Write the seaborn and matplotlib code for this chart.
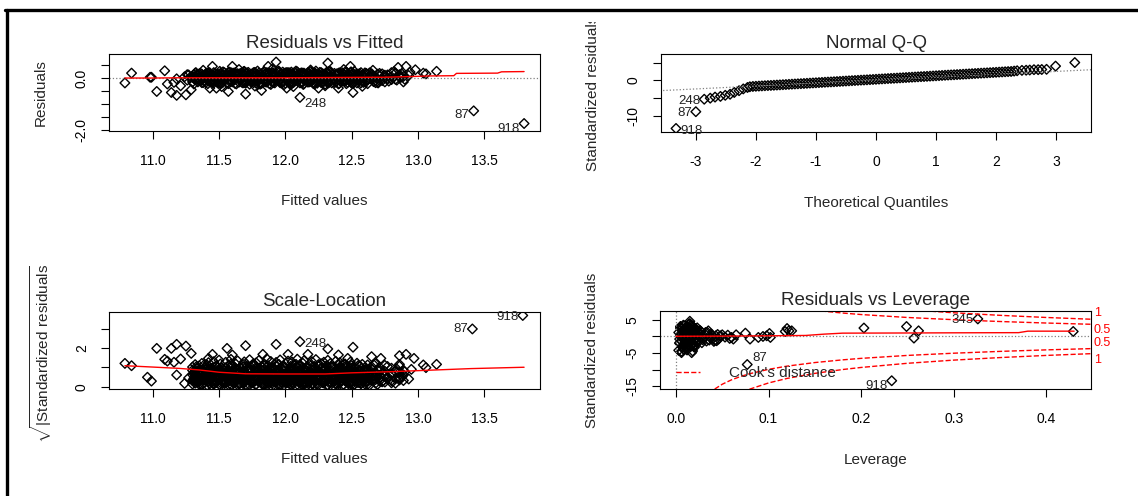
import numpy as np
import matplotlib
matplotlib.use("Agg")
import matplotlib.pyplot as plt
from matplotlib.lines import Line2D
from matplotlib.transforms import Bbox, TransformedBbox, blended_transform_factory
import seaborn as sns

#%% data
# fitted values of the dense core (shared by Residuals vs Fitted and Scale-Location)
fitted_core = [11.30, 11.32, 11.33, 11.35, 11.37, 11.39, 11.41, 11.42, 11.44, 11.46,
               11.48, 11.50, 11.51, 11.53, 11.55, 11.57, 11.59, 11.60, 11.62, 11.64,
               11.66, 11.68, 11.69, 11.71, 11.73, 11.75, 11.77, 11.78, 11.80, 11.82,
               11.84, 11.86, 11.87, 11.89, 11.91, 11.93, 11.95, 11.96, 11.98, 12.00,
               12.02, 12.04, 12.05, 12.07, 12.09, 12.11, 12.13, 12.14, 12.16, 12.18,
               12.20, 12.22, 12.23, 12.25, 12.27, 12.29, 12.31, 12.32, 12.34, 12.36,
               12.38, 12.40, 12.41, 12.43, 12.45, 12.47, 12.49, 12.50, 12.52, 12.54,
               12.56, 12.58, 12.60, 12.62, 12.65, 12.68, 12.71, 12.75, 12.80, 12.86]
fitted_core2 = [11.31, 11.325, 11.34, 11.36, 11.38, 11.40, 11.415, 11.43, 11.45, 11.47,
                11.49, 11.505, 11.52, 11.54, 11.56, 11.58, 11.595, 11.61, 11.63, 11.65,
                11.67, 11.685, 11.70, 11.72, 11.74, 11.76, 11.775, 11.79, 11.81, 11.83,
                11.85, 11.865, 11.88, 11.90, 11.92, 11.94, 11.955, 11.97, 11.99, 12.01,
                12.03, 12.045, 12.06, 12.08, 12.10, 12.12, 12.135, 12.15, 12.17, 12.19,
                12.21, 12.225, 12.24, 12.26, 12.28, 12.30, 12.315, 12.33, 12.35, 12.37,
                12.39, 12.405, 12.42, 12.44, 12.46, 12.48, 12.495, 12.51, 12.53, 12.55,
                12.57, 12.59, 12.61, 12.635, 12.665, 12.695, 12.73, 12.77, 12.83, 12.89]
res_a = [0.06, -0.05, 0.12, -0.10, 0.15, -0.14, 0.08, 0.18, -0.17, 0.21,
         -0.08, 0.13, -0.20, 0.24, -0.04, -0.22, 0.14, -0.15, 0.20, 0.11,
         0.18, -0.19, 0.26, -0.11, -0.24, 0.16, 0.22, -0.13, 0.19, -0.21,
         0.25, -0.16, 0.15, -0.25, 0.20, -0.07, 0.27, -0.18, 0.23, -0.20,
         0.21, -0.26, 0.16, -0.12, 0.24, -0.19, 0.19, -0.22, 0.14, -0.15,
         0.20, -0.24, 0.27, -0.11, -0.18, 0.15, 0.22, -0.13, 0.25, -0.16,
         0.13, -0.23, 0.19, -0.10, 0.23, -0.17, 0.21, -0.20, 0.26, -0.19,
         0.17, -0.09, 0.20, -0.22, 0.12, -0.18, 0.18, -0.15, 0.21, 0.13]
res_b = [0.03, -0.07, 0.10, -0.01, 0.06, -0.11, 0.08, -0.04, 0.12, -0.09,
         0.01, 0.09, -0.06, 0.11, -0.02, 0.05, -0.12, 0.07, -0.05, 0.10,
         -0.08, 0.04, 0.12, -0.03, 0.08, -0.10, 0.02, 0.11, -0.07, 0.06,
         -0.11, 0.09, 0.00, -0.06, 0.12, -0.02, 0.07, -0.09, 0.10, 0.03,
         -0.05, 0.11, -0.12, 0.05, 0.08, -0.04, 0.12, -0.08, 0.02, 0.09,
         -0.10, 0.06, -0.01, 0.11, -0.07, 0.04, 0.10, -0.11, 0.07, -0.03,
         0.12, -0.06, 0.01, 0.09, -0.09, 0.05, -0.12, 0.11, -0.02, 0.08,
         -0.05, 0.10, 0.03, -0.08, 0.06, -0.10, 0.09, 0.00, -0.04, 0.07]
res_c = [-0.15, 0.19, -0.02, 0.16, -0.18, 0.04, 0.20, -0.12, 0.07, -0.19,
         0.15, -0.03, 0.18, -0.16, 0.09, 0.22, -0.10, 0.03, -0.21, 0.17,
         -0.06, 0.14, -0.17, 0.20, -0.01, -0.14, 0.10, -0.20, 0.05, 0.16,
         -0.13, 0.21, -0.08, 0.14, -0.18, 0.18, -0.03, 0.11, -0.15, 0.20,
         -0.07, 0.16, -0.20, 0.22, -0.02, 0.13, -0.16, 0.19, -0.09, 0.17,
         0.02, -0.19, 0.14, -0.05, 0.21, -0.14, 0.08, -0.20, 0.18, -0.04,
         -0.16, 0.15, -0.07, 0.20, -0.13, 0.17, -0.05, 0.12, -0.17, 0.15,
         0.06, -0.14, 0.13, -0.03, 0.17, 0.02, -0.10, 0.11, -0.06, 0.04]
fit_out = [10.79, 10.84, 10.98, 10.99, 11.03, 11.09, 11.11, 11.14, 11.16, 11.18,
           11.18, 11.21, 11.25, 11.26, 11.29, 11.31, 11.43, 11.45, 11.48, 11.57,
           11.60, 11.70, 11.82, 11.87, 11.93, 12.01, 12.11, 12.25, 12.32, 12.40,
           12.49, 12.51, 12.70, 12.85, 12.91, 12.94, 12.98, 13.04, 13.06, 13.14,
           13.42, 13.80,
           11.24, 11.26, 11.27, 11.28, 11.38, 11.52, 11.65, 11.77, 11.90, 12.06,
           12.19, 12.30, 12.44, 12.58, 12.66, 12.78, 12.82, 12.88, 12.90, 12.93,
           12.80, 12.84, 12.87]
res_out = [-0.19, 0.19, 0.03, 0.03, -0.52, 0.28, -0.23, -0.56, -0.17, -0.67,
           -0.03, -0.30, -0.65, 0.13, -0.45, -0.23, -0.39, 0.45, -0.39, -0.52,
           0.45, -0.62, -0.48, 0.45, 0.62, -0.39, -0.75, -0.39, 0.58, -0.39,
           0.45, -0.56, -0.19, 0.41, 0.45, 0.23, 0.32, 0.19, 0.16, 0.26,
           -1.27, -1.76,
           0.05, -0.08, 0.12, 0.02, 0.30, -0.33, 0.33, -0.31, 0.34, -0.33,
           0.31, -0.30, 0.33, -0.32, 0.30, -0.12, 0.25, 0.15, -0.05, 0.10,
           0.05, -0.08, 0.02]
smooth1_x = [10.79, 11.0, 11.2, 11.6, 12.0, 12.4, 12.75, 12.9, 13.08, 13.27, 13.29, 13.60, 13.63, 13.80]
smooth1_y = [0.00, 0.00, 0.01, 0.01, 0.01, 0.02, 0.03, 0.05, 0.08, 0.09, 0.18, 0.19, 0.24, 0.25]

# Normal Q-Q
qq_theo = [-2.05, -2.00, -1.95, -1.90, -1.85, -1.80, -1.75, -1.70, -1.65, -1.60,
           -1.55, -1.50, -1.45, -1.40, -1.35, -1.30, -1.25, -1.20, -1.15, -1.10,
           -1.05, -1.00, -0.95, -0.90, -0.85, -0.80, -0.75, -0.70, -0.65, -0.60,
           -0.55, -0.50, -0.45, -0.40, -0.35, -0.30, -0.25, -0.20, -0.15, -0.10,
           -0.05, 0.00, 0.05, 0.10, 0.15, 0.20, 0.25, 0.30, 0.35, 0.40,
           0.45, 0.50, 0.55, 0.60, 0.65, 0.70, 0.75, 0.80, 0.85, 0.90,
           0.95, 1.00, 1.05, 1.10, 1.15, 1.20, 1.25, 1.30, 1.35, 1.40,
           1.45, 1.50, 1.55, 1.60, 1.65, 1.70, 1.75, 1.80, 1.85, 1.90,
           1.95, 2.00, 2.05, 2.10, 2.15, 2.20]
qq_std = [-1.71, -1.66, -1.61, -1.56, -1.51, -1.46, -1.42, -1.37, -1.32, -1.27,
          -1.22, -1.17, -1.12, -1.07, -1.02, -0.97, -0.93, -0.88, -0.83, -0.78,
          -0.73, -0.68, -0.63, -0.58, -0.53, -0.48, -0.44, -0.39, -0.34, -0.29,
          -0.24, -0.19, -0.14, -0.09, -0.04, 0.01, 0.06, 0.10, 0.15, 0.20,
          0.25, 0.30, 0.35, 0.40, 0.45, 0.50, 0.55, 0.59, 0.64, 0.69,
          0.74, 0.79, 0.84, 0.89, 0.94, 0.99, 1.04, 1.08, 1.13, 1.18,
          1.23, 1.28, 1.33, 1.38, 1.43, 1.48, 1.53, 1.57, 1.62, 1.67,
          1.72, 1.77, 1.82, 1.87, 1.92, 1.97, 2.02, 2.06, 2.11, 2.16,
          2.21, 2.26, 2.31, 2.36, 2.41, 2.46]
qq_tail_x = [-3.33, -3.00, -2.86, -2.76, -2.68, -2.59, -2.51, -2.43, -2.36, -2.28, -2.21, -2.14, -2.10,
             2.25, 2.30, 2.35, 2.43, 2.50, 2.56, 2.63, 2.70, 2.76, 2.84, 2.99, 3.31]
qq_tail_y = [-13.5, -8.8, -5.3, -5.0, -4.7, -4.5, -4.2, -3.9, -3.4, -2.9, -2.4, -2.0, -1.8,
             2.5, 2.6, 2.7, 2.8, 2.85, 2.9, 3.0, 3.0, 3.05, 3.1, 4.0, 5.0]
qq_line_x = [-3.6, 3.6]
qq_line_y = [-2.9, 3.0]

# Scale-Location (sqrt|standardized residuals|), layers over the fitted core
sl_low = [0.32, 0.18, 0.41, 0.25, 0.12, 0.36, 0.08, 0.29, 0.44, 0.15,
          0.22, 0.38, 0.06, 0.31, 0.19, 0.43, 0.11, 0.27, 0.35, 0.09,
          0.40, 0.16, 0.28, 0.05, 0.34, 0.21, 0.45, 0.13, 0.24, 0.39,
          0.07, 0.30, 0.17, 0.42, 0.10, 0.26, 0.37, 0.14, 0.33, 0.20,
          0.44, 0.08, 0.23, 0.35, 0.12, 0.40, 0.18, 0.29, 0.06, 0.38,
          0.15, 0.27, 0.43, 0.10, 0.32, 0.22, 0.36, 0.09, 0.25, 0.41,
          0.13, 0.34, 0.19, 0.07, 0.30, 0.44, 0.16, 0.26, 0.11, 0.37,
          0.21, 0.39, 0.14, 0.28, 0.33, 0.18, 0.42, 0.24, 0.31, 0.35]
sl_mid = [0.62, 0.78, 0.51, 0.70, 0.86, 0.57, 0.74, 0.48, 0.66, 0.82,
          0.55, 0.72, 0.88, 0.60, 0.47, 0.77, 0.64, 0.84, 0.53, 0.69,
          0.80, 0.58, 0.73, 0.50, 0.87, 0.63, 0.76, 0.54, 0.68, 0.85,
          0.59, 0.71, 0.49, 0.83, 0.65, 0.79, 0.56, 0.75, 0.89, 0.61,
          0.52, 0.81, 0.67, 0.74, 0.46, 0.86, 0.60, 0.78, 0.55, 0.70,
          0.84, 0.63, 0.50, 0.77, 0.66, 0.88, 0.57, 0.72, 0.81, 0.53,
          0.69, 0.85, 0.61, 0.48, 0.76, 0.64, 0.82, 0.58, 0.73, 0.51,
          0.79, 0.67, 0.55, 0.86, 0.62, 0.71, 0.59, 0.80, 0.66, 0.75]
sl_high = [1.02, 1.15, 0.94, 1.08, 1.21, 0.98, 1.12, 1.25, 0.96, 1.30,
           1.05, 1.38, 1.18, 0.93, 1.27, 1.10, 1.42, 1.01, 1.22, 1.34,
           0.97, 1.16, 1.29, 1.06, 1.40, 1.13, 0.95, 1.24, 1.36, 1.03,
           1.19, 1.45, 1.09, 1.31, 0.99, 1.26, 1.14, 1.39, 1.04, 1.20,
           1.33, 0.96, 1.28, 1.11, 1.43, 1.07, 1.23, 1.35, 1.00, 1.17,
           1.30, 1.05, 1.41, 1.15, 0.98, 1.27, 1.09, 1.37, 1.21, 1.02,
           1.32, 1.12, 1.25, 0.95, 1.18, 1.06, 1.28, 1.10, 0.99, 1.22,
           1.08, 1.16, 0.97, 1.13, 1.04, 1.19, 1.01, 1.11, 0.96, 1.07]
sl_4 = [0.85, 0.42, 1.05, 0.27, 0.63, 1.15, 0.35, 0.92, 0.55, 0.18,
        1.10, 0.47, 0.78, 0.23, 0.98, 0.60, 1.18, 0.33, 0.71, 0.88,
        0.40, 1.02, 0.20, 0.66, 0.95, 0.30, 1.12, 0.52, 0.83, 0.16,
        1.08, 0.45, 0.74, 0.97, 0.25, 0.58, 1.16, 0.38, 0.90, 0.68,
        0.22, 1.06, 0.49, 0.81, 0.31, 1.14, 0.57, 0.94, 0.19, 0.73,
        1.00, 0.36, 0.87, 0.53, 1.19, 0.28, 0.76, 0.44, 1.04, 0.62,
        0.17, 0.91, 0.50, 1.11, 0.34, 0.80, 0.24, 0.96, 0.59, 0.41,
        0.86, 0.29, 0.70, 0.48, 0.93, 0.37, 0.82, 0.54, 0.65, 0.43]
sl_5 = [0.14, 0.58, 0.33, 0.82, 0.07, 0.47, 0.95, 0.26, 0.69, 0.12,
        0.53, 0.88, 0.21, 0.40, 0.76, 0.10, 0.61, 0.31, 0.99, 0.45,
        0.18, 0.72, 0.37, 0.85, 0.09, 0.56, 0.28, 0.93, 0.43, 0.66,
        0.13, 0.50, 0.80, 0.23, 0.64, 0.35, 0.90, 0.06, 0.59, 0.29,
        0.77, 0.15, 0.52, 0.97, 0.39, 0.68, 0.11, 0.46, 0.84, 0.25,
        0.62, 0.08, 0.74, 0.34, 0.91, 0.19, 0.55, 0.42, 0.79, 0.27,
        0.70, 0.16, 0.49, 0.87, 0.32, 0.60, 0.05, 0.44, 0.75, 0.22,
        0.57, 0.36, 0.83, 0.12, 0.51, 0.67, 0.30, 0.63, 0.20, 0.48]
sl_fit_out = [10.79, 10.84, 10.96, 10.99, 11.03, 11.09, 11.11, 11.14, 11.18, 11.16,
              11.18, 11.21, 11.24, 11.25, 11.29, 11.31, 11.42, 11.45, 11.56, 11.60,
              11.70, 11.93, 11.83, 12.11, 12.02, 12.17, 12.32, 12.40, 12.51, 12.47,
              12.65, 12.72, 12.86, 12.91, 12.97, 12.86, 12.84, 12.90, 12.88, 13.04,
              13.06, 13.14, 13.41, 13.79, 11.27, 11.35, 12.93, 12.95]
sl_out = [1.21, 1.09, 0.49, 0.29, 1.99, 1.42, 1.33, 1.99, 2.20, 1.27,
          0.61, 1.44, 0.17, 2.11, 1.73, 0.26, 1.47, 1.68, 1.99, 1.65,
          2.13, 2.20, 1.68, 2.34, 1.68, 1.68, 1.96, 1.65, 2.05, 1.47,
          1.56, 1.47, 1.61, 1.68, 1.47, 1.16, 0.92, 0.78, 0.52, 1.13,
          0.99, 1.16, 3.00, 3.70, 0.45, 0.12, 0.40, 0.90]
smooth3_x = [10.79, 11.0, 11.2, 11.35, 11.5, 11.7, 12.0, 12.3, 12.5, 12.8, 13.1, 13.4, 13.8]
smooth3_y = [1.09, 1.02, 0.95, 0.87, 0.75, 0.67, 0.66, 0.66, 0.72, 0.78, 0.86, 0.94, 1.01]

# Residuals vs Leverage
lev_core = [0.003, 0.004, 0.005, 0.005, 0.006, 0.006, 0.007, 0.007, 0.008, 0.008,
            0.009, 0.009, 0.010, 0.010, 0.011, 0.011, 0.012, 0.012, 0.013, 0.013,
            0.014, 0.014, 0.015, 0.015, 0.016, 0.016, 0.017, 0.017, 0.018, 0.018,
            0.019, 0.019, 0.020, 0.020, 0.021, 0.022, 0.023, 0.024, 0.025, 0.026,
            0.004, 0.006, 0.008, 0.010, 0.012, 0.014, 0.016, 0.018, 0.020, 0.022,
            0.005, 0.007, 0.009, 0.011, 0.013, 0.015, 0.017, 0.019, 0.021, 0.024,
            0.027, 0.029, 0.031, 0.033, 0.035, 0.037, 0.039, 0.042, 0.045, 0.048,
            0.003, 0.006, 0.009, 0.012, 0.015, 0.018, 0.021, 0.028, 0.034, 0.040]
rsl_core = [1.2, -2.1, 0.4, 2.8, -1.3, 0.9, -3.2, 1.8, -0.6, 3.4,
            -2.5, 0.1, 2.2, -1.8, 1.5, -3.6, 0.7, 2.9, -0.9, -2.8,
            1.1, 3.7, -1.5, 0.3, 2.5, -3.0, 1.9, -0.4, -2.2, 3.1,
            0.6, -1.1, 2.0, -2.6, 1.4, -0.2, 2.6, -1.7, 0.9, 1.8,
            -0.8, 2.3, -3.8, 1.6, -2.0, 2.7, -1.2, 0.5, -3.3, 2.1,
            3.0, -0.5, 1.3, -2.4, 0.2, -1.6, 3.3, -2.9, 1.0, -0.7,
            1.5, -1.0, 0.8, -1.4, 1.7, -0.3, 0.4, -1.2, 0.6, 0.2,
            -4.2, -4.5, -3.9, -4.1, 3.9, -4.4, 2.4, -1.9, 1.2, -0.6]
lev_core2 = [0.004, 0.005, 0.006, 0.007, 0.008, 0.009, 0.010, 0.011, 0.012, 0.013,
             0.014, 0.015, 0.016, 0.017, 0.018, 0.019, 0.020, 0.021, 0.023, 0.025,
             0.005, 0.007, 0.009, 0.011, 0.013, 0.015, 0.017, 0.019, 0.022, 0.026,
             0.030, 0.032, 0.036, 0.038, 0.043, 0.046, 0.050, 0.053, 0.056, 0.058]
rsl_core2 = [-1.9, 2.4, -0.3, 1.3, -2.7, 3.2, 0.0, -1.4, 2.6, -3.4,
             0.8, -0.9, 3.5, -2.3, 1.1, -0.1, -2.9, 2.2, 0.6, -1.3,
             3.0, -3.1, 1.6, -0.5, 2.0, -2.0, 0.3, 1.7, -1.6, 0.9,
             -0.4, 1.2, -1.1, 0.7, 0.2, -0.8, 0.5, -0.2, 0.4, -0.6]
lev_out = [0.006, 0.017, 0.015, 0.041, 0.044, 0.060, 0.062, 0.065, 0.075, 0.080,
           0.089, 0.094, 0.098, 0.101, 0.102, 0.118, 0.120, 0.122, 0.125, 0.203,
           0.249, 0.257, 0.262, 0.326, 0.429, 0.233, 0.077]
rsl_out = [-4.9, -4.9, 4.6, -1.5, -1.3, -0.3, -0.8, 0.5, 1.0, -0.8,
           -0.3, 0.0, 0.2, 0.9, -0.3, 1.5, 2.4, 1.7, 1.7, 2.55,
           3.0, -0.5, 1.7, 5.3, 1.5, -13.4, -8.5]
smooth4_x = [0.0, 0.05, 0.10, 0.14, 0.16, 0.18, 0.25, 0.30, 0.37, 0.38, 0.43]
smooth4_y = [0.05, 0.10, 0.20, 0.30, 0.70, 1.00, 1.05, 1.10, 1.15, 1.60, 1.60]
cook_h = [0.03, 0.04, 0.05, 0.06, 0.07, 0.08, 0.10, 0.12, 0.15, 0.18, 0.20, 0.25, 0.30, 0.35, 0.40, 0.45]
cook_05 = [18.86, 16.25, 14.46, 13.13, 12.09, 11.25, 9.95, 8.98, 7.90, 7.08, 6.63, 5.74, 5.07, 4.52, 4.06, 3.67]
cook_1 = [26.67, 22.98, 20.45, 18.57, 17.10, 15.91, 14.07, 12.70, 11.17, 10.01, 9.38, 8.12, 7.16, 6.39, 5.74, 5.19]

#%% style
sns.set_theme(style="ticks")
plt.rcParams['font.family'] = ['Liberation Sans', 'DejaVu Sans']
plt.rcParams['mathtext.fontset'] = 'custom'
plt.rcParams['mathtext.rm'] = 'Liberation Sans'
plt.rcParams['axes.edgecolor'] = 'black'
plt.rcParams['axes.linewidth'] = 0.8

W, H = 1138, 496
fig = plt.figure(figsize=(W / 100, H / 100), dpi=100)
fig.patch.set_facecolor('white')

def box(x0, y0, x1, y1):
    return fig.add_axes([x0 / W, 1 - y1 / H, (x1 - x0) / W, (y1 - y0) / H])

ax1 = box(109, 54, 540, 131)
ax2 = box(661, 54, 1091, 132)
ax3 = box(109, 312, 540, 389)
ax4 = box(660, 311, 1091, 389)

pts = dict(marker='D', s=24, facecolor='none', edgecolor='black', linewidth=1.0, legend=False)

def dress(ax, xlim, ylim, xt, xtl, yt, ytl, title, xlab, ylab):
    ax.set_xlim(xlim)
    ax.set_ylim(ylim)
    ax.set_xticks(xt)
    ax.set_xticklabels(xtl)
    ax.set_yticks(yt)
    ax.set_yticklabels(ytl)
    ax.tick_params(direction='out', length=5.5, width=0.8, labelsize=10, colors='black')
    ax.tick_params(axis='x', pad=11)
    ax.tick_params(axis='y', pad=9, labelrotation=90)
    for t in ax.get_yticklabels():
        t.set_va('center')
    ax.set_title(title, fontsize=13.5, pad=4)
    ax.set_xlabel(xlab, fontsize=11)
    ax.set_ylabel(ylab, fontsize=11)
    ax.xaxis.set_label_coords(0.5, -70 / 77)
    ax.xaxis.label.set_va('center')
    ax.yaxis.set_label_coords(-68 / 431, 0.5)
    ax.yaxis.label.set_va('center')
    for s in ax.spines.values():
        s.set_visible(True)

def tag(ax, txt, x, y, dx, dy, ha):
    ax.annotate(txt, (x, y), xytext=(dx, dy), textcoords='offset points',
                ha=ha, va='center', fontsize=9.5, color='#222222')

#%% Residuals vs Fitted
ax1.axhline(0, color='gray', ls=':', lw=0.9)
for ys in (res_a, res_b, res_c):
    sns.scatterplot(x=fitted_core, y=ys, ax=ax1, **pts)
for ys in (res_a[::-1], res_c[::-1]):
    sns.scatterplot(x=fitted_core2, y=ys, ax=ax1, **pts)
sns.scatterplot(x=fit_out, y=res_out, ax=ax1, **pts)
sns.lineplot(x=smooth1_x, y=smooth1_y, ax=ax1, color='red', lw=1, sort=False)
tag(ax1, '248', 12.11, -0.75, 3, -5, 'left')
tag(ax1, '87', 13.42, -1.27, -3, -3, 'right')
tag(ax1, '918', 13.80, -1.76, -3, -4, 'right')
dress(ax1, (10.67, 13.92), (-2.05, 0.93),
      [11.0, 11.5, 12.0, 12.5, 13.0, 13.5], ['11.0', '11.5', '12.0', '12.5', '13.0', '13.5'],
      [-2.0, -1.5, -1.0, -0.5, 0.0, 0.5], ['-2.0', '', '', '', '0.0', ''],
      'Residuals vs Fitted', 'Fitted values', 'Residuals')

#%% Normal Q-Q
sns.lineplot(x=qq_line_x, y=qq_line_y, ax=ax2, color='gray', lw=0.9, ls=':')
sns.scatterplot(x=qq_theo, y=qq_std, ax=ax2, **pts)
sns.scatterplot(x=qq_tail_x, y=qq_tail_y, ax=ax2, **pts)
tag(ax2, '248', -2.86, -5.3, -3, -1, 'right')
tag(ax2, '87', -3.00, -8.8, -3, -1, 'right')
tag(ax2, '918', -3.33, -13.5, 3, -2, 'left')
dress(ax2, (-3.58, 3.58), (-14.5, 7.4),
      [-3, -2, -1, 0, 1, 2, 3], ['-3', '-2', '-1', '0', '1', '2', '3'],
      [-10, -5, 0, 5], ['-10', '', '0', ''],
      'Normal Q-Q', 'Theoretical Quantiles', 'Standardized residuals')

#%% Scale-Location
for ys in (sl_low, sl_mid, sl_high, sl_4, sl_5):
    sns.scatterplot(x=fitted_core, y=ys, ax=ax3, **pts)
for ys in (sl_mid[::-1], sl_4[::-1], sl_low[::-1]):
    sns.scatterplot(x=fitted_core2, y=ys, ax=ax3, **pts)
sns.scatterplot(x=sl_fit_out, y=sl_out, ax=ax3, **pts)
sns.lineplot(x=smooth3_x, y=smooth3_y, ax=ax3, color='red', lw=1, sort=False)
tag(ax3, '248', 12.11, 2.34, 3, -2, 'left')
tag(ax3, '87', 13.41, 3.00, -3, 0, 'right')
tag(ax3, '918', 13.79, 3.70, -3, -1, 'right')
dress(ax3, (10.67, 13.92), (-0.12, 3.88),
      [11.0, 11.5, 12.0, 12.5, 13.0, 13.5], ['11.0', '11.5', '12.0', '12.5', '13.0', '13.5'],
      [0, 1, 2, 3], ['0', '', '2', ''],
      'Scale-Location', 'Fitted values', r'$\sqrt{|\mathrm{Standardized\ residuals}|}$')

#%% Residuals vs Leverage
ax4.axhline(0, color='gray', ls=':', lw=0.9)
ax4.axvline(0, color='gray', ls=':', lw=0.9)
sns.scatterplot(x=lev_core, y=rsl_core, ax=ax4, **pts)
sns.scatterplot(x=lev_core2, y=rsl_core2, ax=ax4, **pts)
sns.scatterplot(x=lev_out, y=rsl_out, ax=ax4, **pts)
sns.lineplot(x=smooth4_x, y=smooth4_y, ax=ax4, color='red', lw=1, sort=False)
for c in (cook_05, cook_1):
    ax4.plot(cook_h, c, color='red', ls='--', lw=1)
    ax4.plot(cook_h, np.negative(c), color='red', ls='--', lw=1)
tr = blended_transform_factory(ax4.transAxes, ax4.transData)
# contour labels in the right margin (upper: 1 above 0.5, lower: 0.5 above 1)
ax4.text(1.006, cook_1[-1], '1', transform=tr, color='red', fontsize=9, ha='left', va='bottom', clip_on=False)
ax4.text(1.006, cook_05[-1], '0.5', transform=tr, color='red', fontsize=9, ha='left', va='top', clip_on=False)
ax4.text(1.006, -cook_05[-1], '0.5', transform=tr, color='red', fontsize=9, ha='left', va='bottom', clip_on=False)
ax4.text(1.006, -cook_1[-1], '1', transform=tr, color='red', fontsize=9, ha='left', va='top', clip_on=False)
tag(ax4, '345', 0.326, 5.3, -3, -1, 'right')
tag(ax4, '918', 0.233, -13.4, -3, -4, 'right')
tag(ax4, '87', 0.077, -8.5, 4, 5, 'left')
leg = ax4.legend(handles=[Line2D([], [], color='red', ls='--', lw=1)], labels=["Cook's distance"],
                 loc='center left', bbox_to_anchor=(0.036, 0.20), frameon=False, fontsize=11,
                 handlelength=1.6, handletextpad=1.9, borderpad=0, borderaxespad=0)
dress(ax4, (-0.0172, 0.4482), (-15.9, 7.7),
      [0.0, 0.1, 0.2, 0.3, 0.4], ['0.0', '0.1', '0.2', '0.3', '0.4'],
      [-15, -10, -5, 0, 5], ['-15', '', '-5', '', '5'],
      'Residuals vs Leverage', 'Leverage', 'Standardized residuals')

# R clips the long y labels at the top of their figure regions
for ax, top in ((ax2, 22), (ax3, 266)):
    clip = TransformedBbox(Bbox([[0, 0], [1, 1 - top / H]]), fig.transFigure)
    ax.yaxis.label.set_clip_box(clip)
    ax.yaxis.label.set_clip_on(True)

# frame of the screenshot
fig.add_artist(Line2D([5 / W, 1], [1 - 9.5 / H, 1 - 9.5 / H], transform=fig.transFigure, color='black', lw=2.4))
fig.add_artist(Line2D([6.5 / W, 6.5 / W], [0, 1 - 9.5 / H], transform=fig.transFigure, color='black', lw=2.4))

fig.savefig('out.png', dpi=100)
